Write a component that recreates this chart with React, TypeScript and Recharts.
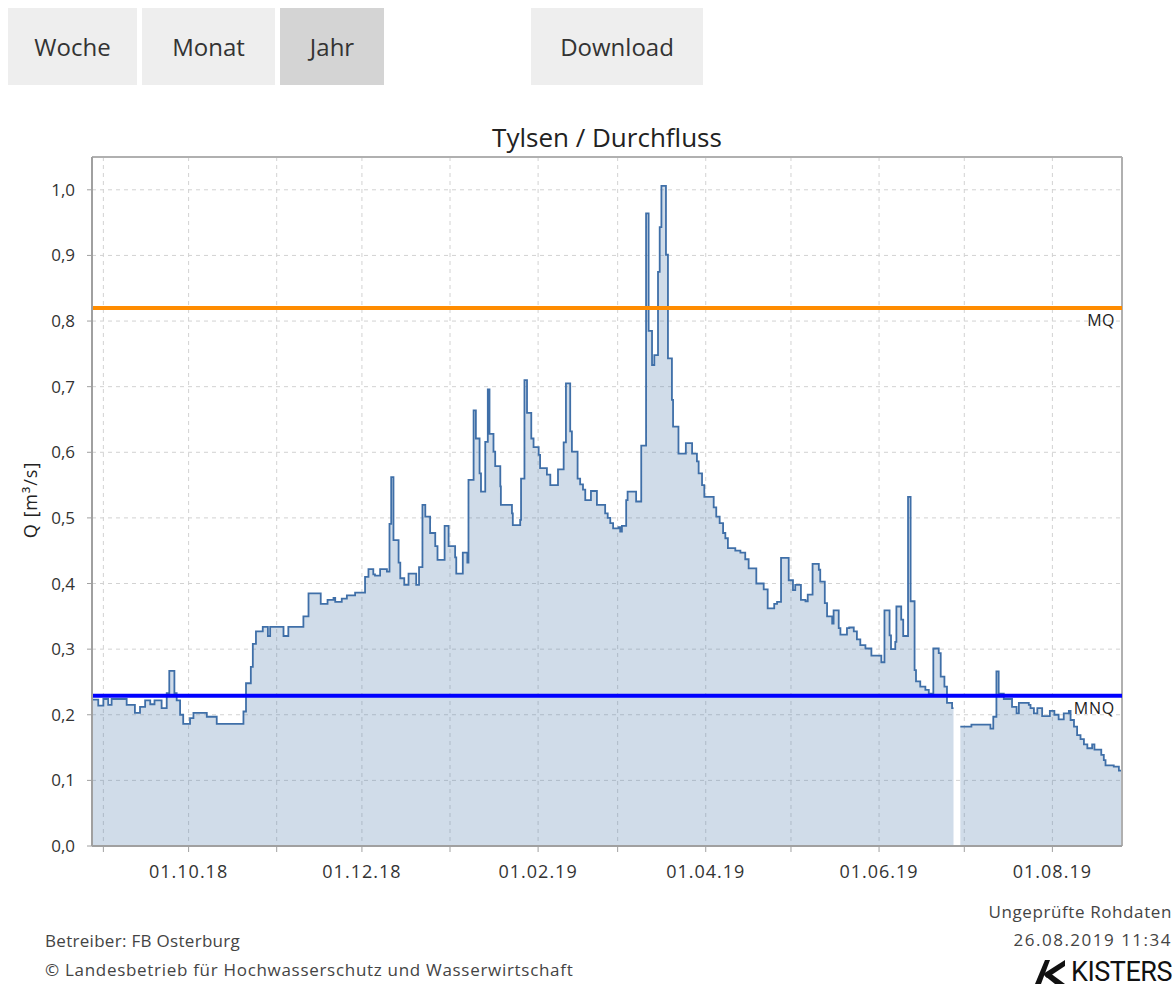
import React from "react";
import { AreaChart, Area, XAxis, YAxis, CartesianGrid, ReferenceLine } from "recharts";

// Day offsets counted from 26.08.2018 00:00
const dayOffsets: number[] = [
  2.0, 4.2, 6.0, 7.7, 8.9, 14.2, 17.1, 18.9, 20.7, 22.5, 24.0, 26.5, 28.3, 29.2, 31.0, 31.8, 33.0, 34.1, 36.5, 37.7,
  42.4, 45.9, 55.3, 56.2, 57.9, 58.6, 59.7, 62.1, 63.9, 64.7, 69.4, 71.1, 76.4, 78.2, 82.5, 84.9, 87.0, 87.6, 89.9, 91.7,
  94.6, 98.1, 99.3, 101.0, 101.6, 103.4, 105.8, 106.7, 107.3, 108.1, 109.9, 110.5, 111.9, 113.4, 116.1, 117.1, 118.3, 119.3, 121.0, 122.8,
  123.6, 126.1, 127.5, 129.8, 130.2, 132.5, 134.1, 134.5, 136.3, 137.1, 138.4, 138.9, 140.4, 141.3, 141.9, 143.3, 143.9, 145.7, 145.9, 149.8,
  150.1, 152.7, 153.0, 154.2, 155.1, 156.6, 157.4, 159.2, 159.7, 162.1, 163.3, 166.0, 168.0, 168.8, 170.3, 170.9, 172.9, 173.8, 174.8, 175.6,
  177.6, 179.7, 182.6, 183.5, 184.4, 185.4, 187.3, 187.9, 188.5, 190.0, 190.5, 193.5, 195.3, 197.0, 197.9, 199.1, 199.9, 201.2, 201.8, 202.4,
  204.0, 204.7, 206.1, 206.5, 208.4, 211.0, 213.2, 214.9, 215.5, 216.7, 217.5, 220.8, 221.7, 222.9, 224.1, 224.9, 225.8, 228.4, 230.2, 231.9,
  233.1, 235.8, 238.4, 239.8, 242.1, 243.1, 244.5, 247.2, 248.7, 249.5, 251.5, 253.1, 253.9, 255.6, 257.8, 258.3, 259.9, 260.7, 262.5, 263.0,
  264.8, 265.4, 267.7, 268.5, 270.1, 271.2, 272.4, 274.2, 276.3, 279.8, 280.9, 282.7, 283.2, 284.7, 285.1, 286.8, 287.5, 289.2, 290.1, 291.5,
  292.0, 293.5, 295.3, 296.5, 298.1, 300.0, 300.7, 302.0, 302.9, 304.7, 305.2, 305.3, 307.6, 311.5, 318.2, 319.2, 320.3, 321.1, 322.9, 325.8,
  327.4, 328.2, 331.7, 332.3, 333.5, 334.7, 336.4, 339.1, 340.7, 342.2, 344.0, 345.8, 346.4, 347.6, 348.7, 349.9, 351.1, 352.3, 354.0, 354.8,
  357.2, 358.1, 358.7, 361.6, 363.4, 364.5,
];

const discharge: (number | null)[] = [
  0.223, 0.214, 0.224, 0.215, 0.224, 0.215, 0.203, 0.212, 0.222, 0.216, 0.222, 0.21, 0.233, 0.267, 0.233, 0.222, 0.2, 0.186, 0.195, 0.203,
  0.197, 0.186, 0.205, 0.248, 0.273, 0.308, 0.327, 0.334, 0.32, 0.334, 0.32, 0.334, 0.35, 0.385, 0.369, 0.375, 0.378, 0.372, 0.377, 0.382,
  0.386, 0.41, 0.422, 0.414, 0.412, 0.422, 0.418, 0.491, 0.562, 0.466, 0.432, 0.408, 0.398, 0.415, 0.398, 0.425, 0.52, 0.502, 0.477, 0.457,
  0.436, 0.488, 0.457, 0.44, 0.415, 0.447, 0.432, 0.558, 0.664, 0.621, 0.568, 0.54, 0.616, 0.696, 0.628, 0.601, 0.579, 0.548, 0.52, 0.507,
  0.489, 0.497, 0.56, 0.71, 0.66, 0.621, 0.608, 0.596, 0.576, 0.566, 0.55, 0.574, 0.615, 0.705, 0.632, 0.601, 0.56, 0.551, 0.543, 0.527,
  0.541, 0.52, 0.507, 0.5, 0.492, 0.484, 0.486, 0.479, 0.488, 0.527, 0.54, 0.525, 0.61, 0.964, 0.785, 0.733, 0.748, 0.875, 0.943, 1.006,
  0.901, 0.743, 0.68, 0.639, 0.598, 0.614, 0.598, 0.586, 0.568, 0.55, 0.532, 0.516, 0.502, 0.492, 0.477, 0.469, 0.454, 0.45, 0.447, 0.437,
  0.423, 0.4, 0.391, 0.362, 0.369, 0.372, 0.439, 0.405, 0.39, 0.398, 0.375, 0.373, 0.383, 0.43, 0.421, 0.403, 0.37, 0.35, 0.339, 0.359,
  0.332, 0.322, 0.332, 0.333, 0.327, 0.315, 0.306, 0.301, 0.29, 0.28, 0.359, 0.321, 0.3, 0.311, 0.365, 0.345, 0.32, 0.532, 0.373, 0.268,
  0.251, 0.243, 0.238, 0.232, 0.301, 0.294, 0.258, 0.243, 0.218, 0.21, 0.21, null, 0.182, 0.185, 0.179, 0.197, 0.266, 0.232, 0.224, 0.212,
  0.202, 0.218, 0.215, 0.21, 0.202, 0.21, 0.198, 0.206, 0.2, 0.193, 0.202, 0.206, 0.192, 0.182, 0.169, 0.163, 0.155, 0.149, 0.155, 0.147,
  0.139, 0.131, 0.123, 0.121, 0.115, 0.115,
];

const monthTickDays: number[] = [6, 36, 67, 97, 128, 159, 187, 218, 248, 279, 309, 340];
const monthTickLabels: string[] = ["", "01.10.18", "", "01.12.18", "", "01.02.19", "", "01.04.19", "", "01.06.19", "", "01.08.19"];
const yTicks: number[] = [0, 0.1, 0.2, 0.3, 0.4, 0.5, 0.6, 0.7, 0.8, 0.9, 1.0];
const xDomain: [number, number] = [2, 364.5];
const yDomain: [number, number] = [0, 1.05];

const MQ = 0.82;
const MNQ = 0.229;

const periodButtons: string[] = ["Woche", "Monat", "Jahr"];
const activeButton = "Jahr";

const title = "Tylsen / Durchfluss";
const yLabel = "Q [m³/s]";
const footerLeft: string[] = ["Betreiber: FB Osterburg", "© Landesbetrieb für Hochwasserschutz und Wasserwirtschaft"];
const footerRight: string[] = ["Ungeprüfte Rohdaten", "26.08.2019 11:34"];

const data = dayOffsets.map((d, i) => ({ d, q: discharge[i] }));

const FONT = "'Open Sans', 'DejaVu Sans', sans-serif";

const btnBase: React.CSSProperties = {
  position: "absolute",
  top: 8,
  height: 77,
  display: "flex",
  alignItems: "center",
  justifyContent: "center",
  fontFamily: FONT,
  fontSize: 24,
  color: "#333",
};

export default function App() {
  const btnGeom = [
    { left: 8, width: 129 },
    { left: 142, width: 133 },
    { left: 280, width: 104 },
  ];
  const leftSpacing = [0.3, 0.7];
  const rightStyle = [
    { fontSize: 17, letterSpacing: 0.6 },
    { fontSize: 17, letterSpacing: 1.5 },
  ];
  return (
    <div style={{ position: "absolute", left: 0, top: 0, width: 1175, height: 987, background: "#fff", overflow: "hidden" }}>
      {periodButtons.map((b, i) => (
        <div
          key={b}
          style={{ ...btnBase, left: btnGeom[i].left, width: btnGeom[i].width, background: b === activeButton ? "#d4d4d4" : "#eeeeee" }}
        >
          {b}
        </div>
      ))}
      <div style={{ ...btnBase, left: 531, width: 172, background: "#eeeeee" }}>Download</div>

      <div style={{ position: "absolute", left: 0, top: 0 }}>
        <AreaChart width={1175} height={987} data={data} margin={{ top: 157, right: 53, bottom: 111, left: 32 }}>
          <CartesianGrid stroke="#d2d2d2" strokeDasharray="4 4" />
          <XAxis
            type="number"
            dataKey="d"
            domain={xDomain}
            allowDataOverflow
            ticks={monthTickDays}
            interval={0}
            tickFormatter={(v: number) => monthTickLabels[monthTickDays.indexOf(v)] ?? ""}
            tick={{ fill: "#333", fontSize: 18, fontFamily: FONT, letterSpacing: 1 }}
            tickSize={6}
            tickMargin={13}
            axisLine={{ stroke: "#a0a0a0", strokeWidth: 2 }}
            tickLine={{ stroke: "#a0a0a0" }}
            height={30}
          />
          <YAxis
            type="number"
            domain={yDomain}
            ticks={yTicks}
            interval={0}
            allowDataOverflow
            tickFormatter={(v: number) => v.toFixed(1).replace(".", ",")}
            tick={{ fill: "#333", fontSize: 17, fontFamily: FONT }}
            tickSize={5}
            tickMargin={12}
            axisLine={{ stroke: "#a0a0a0", strokeWidth: 2 }}
            tickLine={{ stroke: "#a0a0a0" }}
            width={60}
          />
          <ReferenceLine y={yDomain[1]} stroke="#b0b0b0" strokeWidth={2} />
          <ReferenceLine x={xDomain[1]} stroke="#b0b0b0" strokeWidth={2} />
          <Area
            type="stepAfter"
            dataKey="q"
            stroke="#3f6fa8"
            strokeWidth={1.8}
            fill="#4572a7"
            fillOpacity={0.25}
            connectNulls={false}
            isAnimationActive={false}
            dot={false}
            activeDot={false}
          />
          <ReferenceLine
            y={MQ}
            stroke="#ff8c00"
            strokeWidth={4}
            label={{ value: "MQ", position: "insideTopRight", fill: "#222", fontSize: 16, fontFamily: FONT, offset: 7, letterSpacing: 0.5 }}
          />
          <ReferenceLine
            y={MNQ}
            stroke="#0000ff"
            strokeWidth={4}
            label={{ value: "MNQ", position: "insideTopRight", fill: "#222", fontSize: 16, fontFamily: FONT, offset: 7, letterSpacing: 0.8 }}
          />
        </AreaChart>
      </div>

      <div
        style={{
          position: "absolute",
          left: 92,
          width: 1030,
          top: 122,
          textAlign: "center",
          fontFamily: FONT,
          fontSize: 26,
          color: "#222",
          lineHeight: "30px",
        }}
      >
        {title}
      </div>

      <div
        style={{
          position: "absolute",
          left: 30,
          top: 500,
          transform: "translate(-50%, -50%) rotate(-90deg)",
          whiteSpace: "nowrap",
          fontFamily: FONT,
          fontSize: 18,
          letterSpacing: 1,
          color: "#222",
        }}
      >
        {yLabel}
      </div>

      {footerLeft.map((t, i) => (
        <div
          key={t}
          style={{
            position: "absolute",
            left: 45,
            top: 930 + i * 29,
            fontFamily: FONT,
            fontSize: 17,
            letterSpacing: leftSpacing[i],
            color: "#444",
            whiteSpace: "nowrap",
            lineHeight: "22px",
          }}
        >
          {t}
        </div>
      ))}
      {footerRight.map((t, i) => (
        <div
          key={t}
          style={{
            position: "absolute",
            right: 3,
            top: 901 + i * 28,
            fontFamily: FONT,
            fontSize: rightStyle[i].fontSize,
            letterSpacing: rightStyle[i].letterSpacing,
            color: "#444",
            whiteSpace: "nowrap",
            lineHeight: "22px",
          }}
        >
          {t}
        </div>
      ))}
      <div style={{ position: "absolute", right: 3, top: 958, display: "flex", alignItems: "center", gap: 6 }}>
        <svg width={30} height={24} viewBox="0 0 30 24">
          <polygon points="0,24 10,0 15,0 6,24" fill="#111" />
          <polygon points="8,14 30,0 30,6 12,18" fill="#111" />
          <polygon points="10,16 15,13 30,24 20,24" fill="#111" />
        </svg>
        <span style={{ fontFamily: "'Roboto', 'Liberation Sans', sans-serif", fontSize: 27, color: "#111", lineHeight: "28px", letterSpacing: -0.5 }}>
          KISTERS
        </span>
      </div>
    </div>
  );
}
